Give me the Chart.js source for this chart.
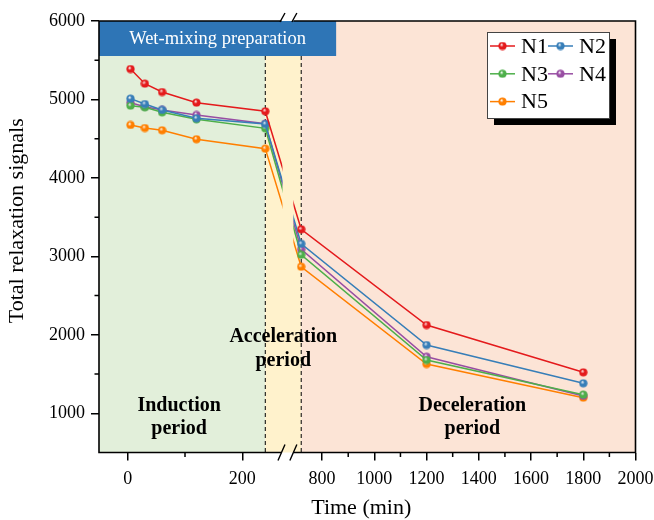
<!DOCTYPE html>
<html>
<head>
<meta charset="utf-8">
<script src="https://cdn.jsdelivr.net/npm/chart.js@4.4.1/dist/chart.umd.min.js"></script>
<style>
  html, body { margin: 0; padding: 0; background: #fff; }
  #wrap { width: 654px; height: 520px; }
</style>
</head>
<body>
<div id="wrap"><canvas id="c" width="654" height="520"></canvas></div>
<script>
// ---- data -------------------------------------------------------------
const TIMES = [5, 30, 60, 120, 240, 720, 1200, 1800];            // min
const N1 = [5388, 5201, 5095, 4959, 4849, 3345, 2125, 1522];
const N2 = [5010, 4942, 4866, 4760, 4687, 3160, 1870, 1382];
const N3 = [4921, 4900, 4836, 4747, 4632, 3021, 1679, 1237];
const N4 = [4959, 4908, 4866, 4802, 4691, 3090, 1721, 1221];
const N5 = [4675, 4636, 4607, 4493, 4373, 2868, 1628, 1199];
const SERIES = [N1, N2, N3, N4, N5];
const SERIES_NAMES = ['N1', 'N2', 'N3', 'N4', 'N5'];

const X_TICKS = [0, 200, 800, 1000, 1200, 1400, 1600, 1800, 2000];
const X_MINOR = [100, 900, 1100, 1300, 1500, 1700, 1900];
const Y_TICKS = [1000, 2000, 3000, 4000, 5000, 6000];
const Y_MINOR = [1500, 2500, 3500, 4500, 5500];

const PHASE_BOUNDS = [240, 720];                                   // min
const PHASE_LABELS = [['Induction', 'period'], ['Acceleration', 'period'], ['Deceleration', 'period']];
const BANNER_TEXT = 'Wet-mixing preparation';
const X_TITLE = 'Time (min)';
const Y_TITLE = 'Total relaxation signals';

// ---- styling ----------------------------------------------------------
const COLORS = ['#e41a1c', '#377eb8', '#4daf4a', '#984ea3', '#ff7f00'];
const PHASE_FILLS = ['#e2efda', '#fff2cc', '#fce4d6'];
const BANNER_FILL = '#2e75b6';
const SERIF = '"Liberation Serif", "Times New Roman", Times, serif';
Chart.defaults.font.family = SERIF;
Chart.defaults.color = '#000';

// broken time axis: two value ranges laid out on fractions of the axis length
const X_BREAK = [
  { from: -50, to: 270, start: 0, end: 0.342 },
  { from: 690, to: 2000, start: 0.3623, end: 1 }
];

// ---- a linear scale with a gap ----------------------------------------
class BrokenLinearScale extends Chart.LinearScale {
  static id = 'brokenLinear';
  static defaults = Chart.LinearScale.defaults;

  valueToDecimal(v) {
    const [a, b] = X_BREAK;
    if (v <= a.to) return a.start + (v - a.from) / (a.to - a.from) * (a.end - a.start);
    if (v >= b.from) return b.start + (v - b.from) / (b.to - b.from) * (b.end - b.start);
    return a.end + (v - a.to) / (b.from - a.to) * (b.start - a.end);
  }
  getPixelForValue(value) {
    return this.getPixelForDecimal(this.valueToDecimal(value));
  }
  getValueForPixel(pixel) {
    const d = this.getDecimalForPixel(pixel);
    const [a, b] = X_BREAK;
    if (d <= a.end) return a.from + (d - a.start) / (a.end - a.start) * (a.to - a.from);
    if (d >= b.start) return b.from + (d - b.start) / (b.end - b.start) * (b.to - b.from);
    return a.to + (d - a.end) / (b.start - a.end) * (b.from - a.to);
  }
}
Chart.register(BrokenLinearScale);

// shaded marker with a soft highlight
function ball(color) {
  const c = document.createElement('canvas');
  c.width = c.height = 9;
  const g = c.getContext('2d');
  const grd = g.createRadialGradient(3.4, 3.2, 0.2, 4.5, 4.5, 4.4);
  grd.addColorStop(0, 'rgba(255,255,255,0.75)');
  grd.addColorStop(0.4, color);
  grd.addColorStop(1, color);
  g.fillStyle = grd;
  g.beginPath();
  g.arc(4.5, 4.5, 4.1, 0, Math.PI * 2);
  g.fill();
  return c;
}
const BALLS = COLORS.map(ball);

// ---- decorations: phases, banner, frame with break, titles, legend -----
const decor = {
  id: 'decor',
  beforeDatasetsDraw(chart) {
    const { ctx, chartArea: { left, right, top, bottom }, scales: { x } } = chart;
    const xa = x.getPixelForValue(PHASE_BOUNDS[0]);
    const xb = x.getPixelForValue(PHASE_BOUNDS[1]);
    const bounds = [left, xa, xb, right];
    ctx.save();
    for (let i = 0; i < 3; i++) {
      ctx.fillStyle = PHASE_FILLS[i];
      ctx.fillRect(bounds[i], top, bounds[i + 1] - bounds[i], bottom - top);
    }
    // banner
    const bannerH = 35;
    const bannerW = (right - left) * 0.442;
    ctx.fillStyle = BANNER_FILL;
    ctx.fillRect(left, top, bannerW, bannerH);
    ctx.fillStyle = '#fff';
    ctx.font = '18.5px ' + SERIF;
    ctx.textAlign = 'center';
    ctx.textBaseline = 'middle';
    ctx.fillText(BANNER_TEXT, left + bannerW / 2, top + bannerH / 2 + 1);

    // phase boundaries
    ctx.strokeStyle = '#000';
    ctx.lineWidth = 1;
    ctx.setLineDash([4, 3]);
    [xa, xb].forEach(px => {
      ctx.beginPath();
      ctx.moveTo(px, top + bannerH);
      ctx.lineTo(px, bottom);
      ctx.stroke();
    });
    ctx.setLineDash([]);

    // phase names
    ctx.fillStyle = '#000';
    ctx.font = 'bold 20px ' + SERIF;
    const rows = [[bottom - 47, bottom - 24], [bottom - 116, bottom - 92], [bottom - 47, bottom - 24]];
    for (let i = 0; i < 3; i++) {
      const cx = (bounds[i] + bounds[i + 1]) / 2 + (i === 0 ? -3 : i === 2 ? 4 : 0);
      ctx.fillText(PHASE_LABELS[i][0], cx, rows[i][0]);
      ctx.fillText(PHASE_LABELS[i][1], cx, rows[i][1]);
    }
    ctx.restore();

    // leave the break gap empty
    const g0 = x.getPixelForValue(X_BREAK[0].to);
    const g1 = x.getPixelForValue(X_BREAK[1].from);
    ctx.save();
    ctx.beginPath();
    ctx.rect(0, 0, g0, chart.height);
    ctx.rect(g1, 0, chart.width - g1, chart.height);
    ctx.clip();
  },
  afterDatasetsDraw(chart) {
    const { ctx, chartArea: { left, right, top, bottom }, scales: { x, y } } = chart;
    ctx.restore();
    const g0 = x.getPixelForValue(X_BREAK[0].to) - 1;
    const g1 = x.getPixelForValue(X_BREAK[1].from);

    ctx.save();
    ctx.strokeStyle = '#000';
    ctx.lineWidth = 1.6;
    ctx.lineCap = 'butt';
    ctx.beginPath();
    ctx.moveTo(left, top - 0.8); ctx.lineTo(left, bottom + 0.8);
    ctx.moveTo(right, top - 0.8); ctx.lineTo(right, bottom + 0.8);
    ctx.moveTo(left, top); ctx.lineTo(g0, top);
    ctx.moveTo(g1, top); ctx.lineTo(right, top);
    ctx.moveTo(left, bottom); ctx.lineTo(g0, bottom);
    ctx.moveTo(g1, bottom); ctx.lineTo(right, bottom);
    ctx.stroke();

    // break marks
    ctx.lineWidth = 1.4;
    ctx.beginPath();
    [g0, g1].forEach(cx => {
      ctx.moveTo(cx - 3.5, bottom + 8); ctx.lineTo(cx + 3.5, bottom - 8);
      ctx.moveTo(cx - 1.5, top + 1); ctx.lineTo(cx + 3.5, top - 8);
    });
    ctx.stroke();

    // minor ticks
    ctx.lineWidth = 1.5;
    ctx.beginPath();
    X_MINOR.forEach(v => {
      const px = x.getPixelForValue(v);
      ctx.moveTo(px, bottom); ctx.lineTo(px, bottom + 4.5);
    });
    Y_MINOR.forEach(v => {
      const py = y.getPixelForValue(v);
      ctx.moveTo(left, py); ctx.lineTo(left - 4.5, py);
    });
    ctx.stroke();
    ctx.restore();
  },
  afterDraw(chart) {
    const { ctx, chartArea: { left, right, top, bottom } } = chart;
    ctx.save();
    // axis titles
    ctx.fillStyle = '#000';
    ctx.font = '22px ' + SERIF;
    ctx.textAlign = 'center';
    ctx.textBaseline = 'middle';
    ctx.fillText(X_TITLE, (left + right) / 2 - 6, 508);
    ctx.save();
    ctx.translate(17.5, (top + bottom) / 2 - 16);
    ctx.rotate(-Math.PI / 2);
    ctx.fillText(Y_TITLE, 0, 0);
    ctx.restore();

    // legend box with drop shadow
    const bx = 487, by = 32, bw = 122, bh = 86;
    ctx.fillStyle = '#000';
    ctx.fillRect(bx + 7, by + 7, bw, bh);
    ctx.fillStyle = '#fff';
    ctx.fillRect(bx, by, bw, bh);
    ctx.strokeStyle = '#444';
    ctx.lineWidth = 1;
    ctx.strokeRect(bx + 0.5, by + 0.5, bw, bh);
    ctx.font = '22px ' + SERIF;
    ctx.textAlign = 'left';
    chart.data.datasets.forEach((ds, i) => {
      const col = i % 2, row = Math.floor(i / 2);
      const sx = bx + 3 + col * 58;
      const sy = by + 14 + row * 27.8;
      ctx.strokeStyle = ds.borderColor;
      ctx.lineWidth = 1.5;
      ctx.beginPath();
      ctx.moveTo(sx, sy); ctx.lineTo(sx + 25, sy);
      ctx.stroke();
      ctx.drawImage(BALLS[i], sx + 12.5 - 4.5, sy - 4.5);
      ctx.fillStyle = '#000';
      ctx.fillText(ds.label, sx + 31, sy + 1);
    });
    ctx.restore();
  }
};

// ---- chart ------------------------------------------------------------
const datasets = SERIES.map((vals, i) => ({
  label: SERIES_NAMES[i],
  data: TIMES.map((t, j) => ({ x: t, y: vals[j] })),
  borderColor: COLORS[i],
  backgroundColor: COLORS[i],
  borderWidth: 1.5,
  pointStyle: BALLS[i],
  pointRadius: 4,
  tension: 0
}));

const tickFont = { family: SERIF, size: 18 };

new Chart(document.getElementById('c'), {
  type: 'line',
  data: { datasets },
  options: {
    responsive: false,
    animation: false,
    devicePixelRatio: 1,
    layout: { padding: { top: 21, right: 18.5, left: 0, bottom: 0 } },
    plugins: { legend: { display: false }, tooltip: { enabled: false } },
    scales: {
      x: {
        type: 'brokenLinear',
        min: -50,
        max: 2000,
        afterBuildTicks: s => { s.ticks = X_TICKS.map(v => ({ value: v })); },
        afterFit: s => { s.height = 67.5; s.paddingLeft = 0; s.paddingRight = 0; },
        border: { display: false },
        grid: { drawOnChartArea: false, color: '#000', lineWidth: 1.5, tickLength: 8 },
        ticks: { autoSkip: false, maxRotation: 0, padding: 8, color: '#000', font: tickFont,
                 callback: v => String(v) },
        title: { display: false }
      },
      y: {
        type: 'linear',
        min: 500,
        max: 6000,
        afterBuildTicks: s => { s.ticks = Y_TICKS.map(v => ({ value: v })); },
        afterFit: s => { s.width = 99; s.paddingTop = 0; s.paddingBottom = 0; },
        border: { display: false },
        grid: { drawOnChartArea: false, color: '#000', lineWidth: 1.5, tickLength: 8 },
        ticks: { padding: 6, color: '#000', font: tickFont, callback: v => String(v) },
        title: { display: false }
      }
    }
  },
  plugins: [decor]
});
</script>
</body>
</html>
